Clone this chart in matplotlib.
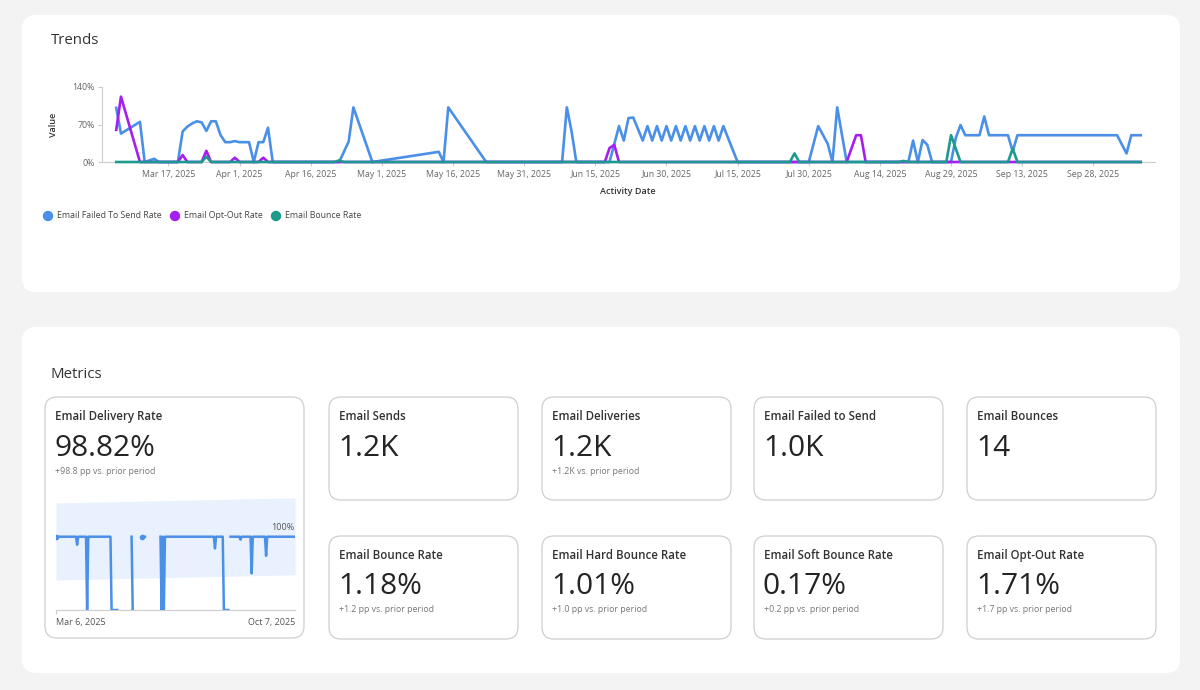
import numpy as np
import matplotlib
matplotlib.use("Agg")
import matplotlib.pyplot as plt
import matplotlib.dates as mdates
from matplotlib.patches import FancyBboxPatch, Circle
from matplotlib.ticker import FuncFormatter

plt.rcParams["font.family"] = ["Open Sans", "DejaVu Sans"]

W, H = 1200, 690
BLUE = "#4a8fe8"
PURPLE = "#a51ef0"
TEAL = "#1c9a8e"

# ---- Trends: daily rates (%) ----
fail_dates = ["2025-03-06", "2025-03-07", "2025-03-11", "2025-03-12", "2025-03-14", "2025-03-15",
              "2025-03-19", "2025-03-20", "2025-03-21", "2025-03-22", "2025-03-23", "2025-03-24",
              "2025-03-25", "2025-03-26", "2025-03-27", "2025-03-28", "2025-03-29", "2025-03-30",
              "2025-03-31", "2025-04-01", "2025-04-03", "2025-04-04", "2025-04-05", "2025-04-06",
              "2025-04-07", "2025-04-08", "2025-04-22", "2025-04-24", "2025-04-25", "2025-04-29",
              "2025-05-13", "2025-05-14", "2025-05-15", "2025-05-23", "2025-06-08", "2025-06-09",
              "2025-06-10", "2025-06-11", "2025-06-18", "2025-06-20", "2025-06-21", "2025-06-22",
              "2025-06-23", "2025-06-25", "2025-06-26", "2025-06-27", "2025-06-28", "2025-06-29",
              "2025-06-30", "2025-07-01", "2025-07-02", "2025-07-03", "2025-07-04", "2025-07-05",
              "2025-07-06", "2025-07-07", "2025-07-08", "2025-07-09", "2025-07-10", "2025-07-11",
              "2025-07-12", "2025-07-15", "2025-07-30", "2025-08-01", "2025-08-03", "2025-08-04",
              "2025-08-05", "2025-08-07", "2025-08-20", "2025-08-21", "2025-08-22", "2025-08-23",
              "2025-08-24", "2025-08-25", "2025-08-29", "2025-08-30", "2025-08-31", "2025-09-01",
              "2025-09-04", "2025-09-05", "2025-09-06", "2025-09-10", "2025-09-11", "2025-09-12",
              "2025-10-03", "2025-10-05", "2025-10-06", "2025-10-08"]
fail_vals = [101, 53, 75, 0, 6, 0,
             0, 57, 66, 72, 76, 74,
             58, 76, 76, 50, 37, 37,
             39, 37, 37, 0, 37, 37,
             64, 0, 0, 38, 102, 0,
             19, 0, 102, 0, 0, 102,
             57, 0, 0, 67, 40, 82,
             83, 40, 67, 40, 67, 40,
             67, 40, 67, 40, 67, 40,
             67, 40, 67, 40, 67, 40,
             67, 0, 0, 67, 34, 0,
             102, 0, 0, 40, 0, 41,
             32, 0, 0, 45, 69, 50,
             50, 85, 50, 50, 20, 50,
             50, 16, 50, 50]

optout_dates = ["2025-03-06", "2025-03-07", "2025-03-11", "2025-03-19", "2025-03-20", "2025-03-21",
                "2025-03-24", "2025-03-25", "2025-03-26", "2025-03-30", "2025-03-31", "2025-04-01",
                "2025-04-05", "2025-04-06", "2025-04-07", "2025-06-17", "2025-06-18", "2025-06-19",
                "2025-06-20", "2025-08-07", "2025-08-09", "2025-08-10", "2025-08-11", "2025-10-08"]
optout_vals = [60, 122, 0, 0, 13, 0,
               0, 21, 0, 0, 8, 0,
               0, 8, 0, 0, 26, 32,
               0, 0, 50, 50, 0, 0]

bounce_dates = ["2025-03-06", "2025-03-24", "2025-03-25", "2025-03-26", "2025-04-21", "2025-04-22",
                "2025-04-23", "2025-07-26", "2025-07-27", "2025-07-28", "2025-08-18", "2025-08-19",
                "2025-08-20", "2025-08-28", "2025-08-29", "2025-08-31", "2025-09-10", "2025-09-11",
                "2025-09-12", "2025-10-08"]
bounce_vals = [0, 0, 10, 0, 0, 3,
               0, 0, 16, 0, 0, 2,
               0, 0, 50, 0, 0, 25,
               0, 0]

# ---- Delivery rate sparkline (%) ; nan = no sends that day ----
spark_dates = ["2025-03-06", "2025-03-24", "2025-03-25", "2025-03-26", "2025-04-02", "2025-04-03",
               "2025-04-04", "2025-04-24", "2025-04-25", "2025-04-30", "2025-05-05", "2025-05-13",
               "2025-05-14", "2025-05-18", "2025-05-23", "2025-05-25", "2025-05-28", "2025-06-08",
               "2025-06-09", "2025-06-10", "2025-06-11", "2025-06-12", "2025-07-26", "2025-07-27",
               "2025-07-28", "2025-08-03", "2025-08-04", "2025-08-08", "2025-08-09", "2025-08-10",
               "2025-08-18", "2025-08-19", "2025-08-20", "2025-08-28", "2025-08-29", "2025-08-30",
               "2025-09-10", "2025-09-11", "2025-09-12", "2025-10-07"]
spark_vals = [100, 100, 89, 100, 100, 0,
              100, 100, 0, 0, np.nan, 100,
              0, np.nan, 100, 100, np.nan, 100,
              0, 100, 0, 100, 100, 84,
              100, 100, 0, 0, np.nan, 100,
              100, 96, 100, 100, 50, 100,
              100, 74, 100, 100]
spark_dot_dates = ["2025-03-06", "2025-05-22"]
spark_dot_vals = [100, 100]
band_dates = ["2025-03-06", "2025-10-07"]
band_lo = [41, 48]
band_hi = [146, 153]

# ---- Metric cards ----
card_titles = ["Email Delivery Rate", "Email Sends", "Email Deliveries", "Email Failed to Send",
               "Email Bounces", "Email Bounce Rate", "Email Hard Bounce Rate",
               "Email Soft Bounce Rate", "Email Opt-Out Rate"]
card_values = ["98.82%", "1.2K", "1.2K", "1.0K", "14", "1.18%", "1.01%", "0.17%", "1.71%"]
card_deltas = ["+98.8 pp vs. prior period", "", "+1.2K vs. prior period", "", "",
               "+1.2 pp vs. prior period", "+1.0 pp vs. prior period",
               "+0.2 pp vs. prior period", "+1.7 pp vs. prior period"]


def d64(lst):
    return np.array(lst, dtype="datetime64[D]")


fig = plt.figure(figsize=(12, 6.9), dpi=100)
fig.patch.set_facecolor("#f3f3f3")
bg = fig.add_axes([0, 0, 1, 1])
bg.set_xlim(0, W)
bg.set_ylim(H, 0)
bg.axis("off")


def box(x0, y0, x1, y1, r, fc="white", ec="none", lw=0):
    bg.add_patch(FancyBboxPatch((x0 + r, y0 + r), x1 - x0 - 2 * r, y1 - y0 - 2 * r,
                                boxstyle=f"round,pad={r}", fc=fc, ec=ec, lw=lw))


def px_axes(x0, y0, x1, y1):
    a = fig.add_axes([x0 / W, 1 - y1 / H, (x1 - x0) / W, (y1 - y0) / H])
    a.patch.set_alpha(0)
    return a


# panels
box(22, 15, 1180, 292, 14)
box(22, 327, 1180, 673, 14)
bg.text(51, 41, "Trends", fontsize=10.8, color="#333333", va="center")
bg.text(51, 374, "Metrics", fontsize=10.8, color="#333333", va="center")

# ---- Trends chart ----
ax = px_axes(102, 87, 1155, 162)
ax.plot(d64(fail_dates), fail_vals, color=BLUE, lw=1.9, clip_on=False, zorder=3)
ax.plot(d64(optout_dates), optout_vals, color=PURPLE, lw=1.9, clip_on=False, zorder=3)
ax.plot(d64(bounce_dates), bounce_vals, color=TEAL, lw=1.9, clip_on=False, zorder=3)
ax.set_xlim(np.datetime64("2025-03-03"), np.datetime64("2025-10-11"))
ax.set_ylim(0, 140)
for s in ["top", "right"]:
    ax.spines[s].set_visible(False)
for s in ["left", "bottom"]:
    ax.spines[s].set_color("#cccccc")
    ax.spines[s].set_linewidth(0.8)
ax.set_yticks([0, 70, 140])
ax.set_yticklabels(["0%", "70%", "140%"])
ax.set_xticks(np.arange(np.datetime64("2025-03-17"), np.datetime64("2025-10-01"), 15))
ax.xaxis.set_major_formatter(FuncFormatter(
    lambda v, p: f"{mdates.num2date(v):%b} {mdates.num2date(v).day}, {mdates.num2date(v).year}"))
ax.tick_params(axis="both", length=3, width=0.8, color="#cccccc", labelsize=6.3,
               labelcolor="#666666", pad=2.5)

bg.text(628, 192, "Activity Date", fontsize=6.5, color="#333333", ha="center", va="center",
        fontweight="semibold")
bg.text(53, 125, "Value", fontsize=6.5, color="#333333", ha="center", va="center",
        rotation=90, fontweight="semibold")

legend_items = [("Email Failed To Send Rate", BLUE, 48), ("Email Opt-Out Rate", PURPLE, 175),
                ("Email Bounce Rate", TEAL, 276)]
for label, col, lx in legend_items:
    bg.add_patch(Circle((lx, 216), 4.5, color=col))
    bg.text(lx + 9, 216, label, fontsize=6.3, color="#444444", va="center")

# ---- Metric cards ----
card_boxes = [(45, 397, 304, 638)]
for ry in [397, 536]:
    for cx in [329, 542, 754, 967]:
        card_boxes.append((cx, ry, cx + 189, ry + 103))

for (x0, y0, x1, y1), t, v, dl in zip(card_boxes, card_titles, card_values, card_deltas):
    box(x0, y0, x1, y1, 12, fc="white", ec="#cfcfcf", lw=0.9)
    bg.text(x0 + 10, y0 + 19.5, t, fontsize=8.3, color="#333333", va="center",
            fontweight="semibold")
    bg.text(x0 + 9, y0 + 51, v, fontsize=21.5, color="#242424", va="center")
    if dl:
        bg.text(x0 + 10, y0 + 74, dl, fontsize=6.3, color="#777777", va="center")

# sparkline in delivery-rate card
sp = px_axes(56, 498, 295, 610)
sp.fill_between(d64(band_dates), band_lo, band_hi, color="#e8f1fd", lw=0)
sp.plot(d64(spark_dates), spark_vals, color=BLUE, lw=1.8, zorder=3)
sp.plot(d64(spark_dot_dates), spark_dot_vals, "o", color=BLUE, ms=3, zorder=3)
sp.set_xlim(np.datetime64("2025-03-06"), np.datetime64("2025-10-07"))
sp.set_ylim(0, 152.8)
for s in ["top", "right", "left"]:
    sp.spines[s].set_visible(False)
sp.spines["bottom"].set_color("#cccccc")
sp.spines["bottom"].set_linewidth(0.8)
sp.set_yticks([])
sp.set_xticks([np.datetime64("2025-03-06")])
sp.set_xticklabels([""])
sp.tick_params(axis="x", length=3, width=0.8, color="#cccccc")
fig.text(294 / W, 1 - 528 / H, "100%", fontsize=6.5, color="#555555", ha="right", va="center")
bg.text(56, 622, "Mar 6, 2025", fontsize=6.5, color="#555555", ha="left", va="center")
bg.text(295, 622, "Oct 7, 2025", fontsize=6.5, color="#555555", ha="right", va="center")

fig.savefig("out.png", dpi=100, facecolor=fig.get_facecolor())
